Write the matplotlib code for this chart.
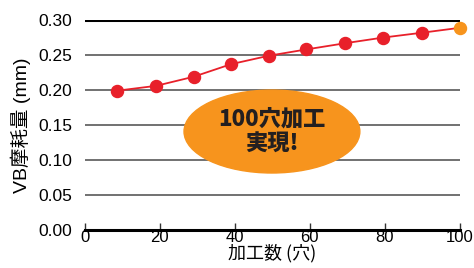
import numpy as np
from matplotlib import pyplot as plt
from matplotlib.patches import Ellipse

plt.rcParams['font.family'] = ['Liberation Sans', 'Noto Sans CJK JP', 'DejaVu Sans']

holes = [8.5, 19, 29, 39, 49, 59, 69.5, 79.5, 90, 100]
wear = [0.199, 0.206, 0.219, 0.237, 0.249, 0.258, 0.267, 0.275, 0.282, 0.289]
yticks = [0.00, 0.05, 0.10, 0.15, 0.20, 0.25, 0.30]
xticks = [0, 20, 40, 60, 80, 100]

red = '#e8202a'
orange = '#f7941d'

fig = plt.figure(figsize=(4.74, 2.68), dpi=100)
ax = fig.add_axes([0.179, 0.142, 0.791, 0.783])

for y in yticks[1:-1]:
    ax.axhline(y, color='#666666', lw=1.3, zorder=1)
ax.axhline(0.30, color='black', lw=2.2, zorder=1)

ax.add_patch(Ellipse((49.9, 0.1407), 46.9, 0.1186, color=orange, zorder=2))
ax.text(49.9, 0.1407, '100穴加工\n実現!', ha='center', va='center',
        fontsize=16, fontweight='heavy', color='#231f20',
        family=['Noto Sans CJK JP', 'DejaVu Sans'], linespacing=1.15, zorder=3)

ax.plot(holes, wear, color=red, lw=1.3, zorder=4)
ax.scatter(holes[:-1], wear[:-1], s=75, color=red, zorder=5, clip_on=False)
ax.scatter(holes[-1:], wear[-1:], s=75, color=orange, zorder=5, clip_on=False)

ax.set_xlim(0, 100)
ax.set_ylim(0, 0.30)
ax.set_xticks(xticks)
ax.set_yticks(yticks)
ax.set_yticklabels(['%.2f' % v for v in yticks])
for s in ['top', 'right', 'left']:
    ax.spines[s].set_visible(False)
ax.spines['bottom'].set_linewidth(2.2)
ax.tick_params(axis='x', direction='in', length=5, width=1, labelsize=12, pad=0, color='#333333')
ax.tick_params(axis='y', length=0, labelsize=12.5, pad=9)
ax.set_xlabel('加工数 (穴)', fontsize=13, labelpad=-1,
              family=['Noto Sans CJK JP', 'DejaVu Sans'])
ax.set_ylabel('VB摩耗量 (mm)', fontsize=14, labelpad=5,
              family=['Liberation Sans', 'Noto Sans CJK JP', 'DejaVu Sans'])

fig.savefig('out.png', dpi=100)
